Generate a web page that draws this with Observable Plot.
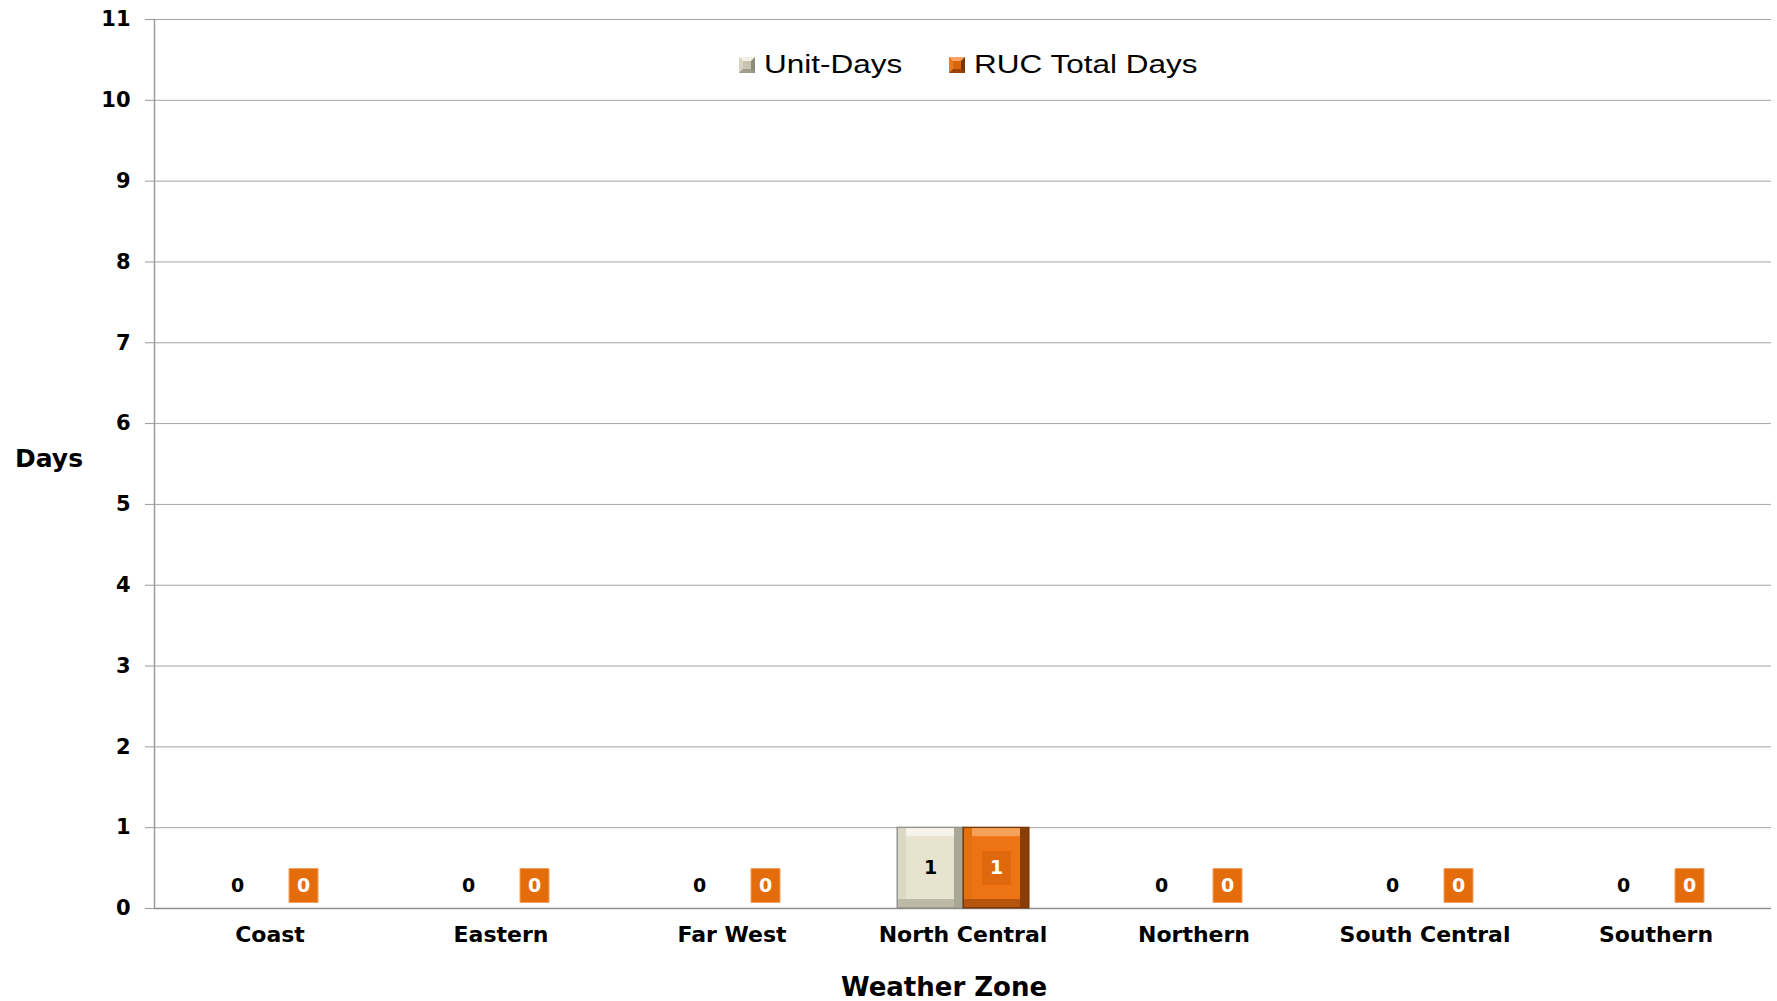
<!DOCTYPE html>
<html>
<head>
<meta charset="utf-8">
<script src="https://cdn.jsdelivr.net/npm/d3@7"></script>
<script src="https://cdn.jsdelivr.net/npm/@observablehq/plot@0.6"></script>
<style>
  html, body { margin: 0; padding: 0; background: #ffffff; }
  #wrap { position: relative; width: 1777px; height: 1001px; overflow: hidden; font-family: "DejaVu Sans", sans-serif; }
  #chart { position: absolute; left: 0; top: 0; }
  .txt { position: absolute; white-space: nowrap; color: #000; line-height: 1; }
  .leg { font-family: "Liberation Sans", Arial, sans-serif; font-size: 25px; transform: scaleX(1.26); transform-origin: left center; }
  .sw { position: absolute; width: 8px; height: 8px; border-style: solid; border-width: 4px; }
</style>
</head>
<body>
<div id="wrap">
  <div id="chart"></div>
  <div class="sw" style="left:739px; top:57px; background:#c9c5b2; border-color:#f3f1e7 #8c8a7a #9f9d8d #d6d3c2;"></div>
  <div class="txt leg" style="left:764px; top:52px;">Unit-Days</div>
  <div class="sw" style="left:949px; top:57px; background:#d9650c; border-color:#f7a163 #7a3506 #9a440a #e77a22;"></div>
  <div class="txt leg" style="left:974px; top:52px;">RUC Total Days</div>
  <div class="txt" style="left:15px; top:446px; font-size:25px; font-weight:bold;">Days</div>
  <div class="txt" style="left:944px; top:974px; font-size:26px; font-weight:bold; transform:translateX(-50%);">Weather Zone</div>
</div>
<script>
// ---- data ----
const zones = ["Coast", "Eastern", "Far West", "North Central", "Northern", "South Central", "Southern"];
const seriesNames = ["Unit-Days", "RUC Total Days"];
const unitDays = [0, 0, 0, 1, 0, 0, 0];
const rucDays  = [0, 0, 0, 1, 0, 0, 0];
const yTicks = [0, 1, 2, 3, 4, 5, 6, 7, 8, 9, 10, 11];

const rows = zones.flatMap((z, i) => [
  {zone: z, series: seriesNames[0], value: unitDays[i]},
  {zone: z, series: seriesNames[1], value: rucDays[i]}
]);

const palette = {
  "Unit-Days":      {right: "#a9a795", bottom: "#bcb9a7", left: "#dbd8c6", top: "#f6f4ea", face: "#e7e3cf", outline: "#8c8c8c"},
  "RUC Total Days": {right: "#8b3d06", bottom: "#b5540d", left: "#e4710f", top: "#f6a15a", face: "#ee7314", outline: "#6e3206"}
};

const B = 9; // bevel width
function bevelBars(s) {
  const c = palette[s];
  const base = {filter: d => d.series === s && d.value > 0, fx: "zone", x: "series", y: "value"};
  return [
    Plot.barY(rows, {...base, fill: c.right, stroke: c.outline, strokeWidth: 1}),
    Plot.barY(rows, {...base, fill: c.bottom, insetRight: B, insetTop: 1, insetLeft: 1, insetBottom: 1}),
    Plot.barY(rows, {...base, fill: c.left, insetRight: B, insetBottom: B, insetTop: 1, insetLeft: 1}),
    Plot.barY(rows, {...base, fill: c.top, insetRight: B, insetBottom: B, insetLeft: B, insetTop: 1}),
    Plot.barY(rows, {...base, fill: c.face, inset: B})
  ];
}

const labelBox = {draw(ctx) { ctx.rect(-14.5, -17, 29, 34); }};

const isUnit = d => d.series === seriesNames[0];
const isRuc = d => d.series === seriesNames[1];

const chart = Plot.plot({
  width: 1777,
  height: 1001,
  marginLeft: 154,
  marginRight: 6,
  marginTop: 19,
  marginBottom: 93,
  style: {fontFamily: "DejaVu Sans, sans-serif", background: "#ffffff", color: "#000"},
  fx: {domain: zones, padding: 0, label: null},
  x: {domain: seriesNames, paddingInner: 0, paddingOuter: 0.75, axis: null},
  y: {domain: [0, 11], label: null},
  marks: [
    Plot.gridY({ticks: yTicks, stroke: "#a3a3a3", strokeOpacity: 1, strokeWidth: 1}),
    Plot.ruleY([0], {stroke: "#8f8f8f", strokeWidth: 1.5}),
    Plot.frame({anchor: "left", facetAnchor: "left", stroke: "#9a9a9a", strokeWidth: 1.5}),
    Plot.axisY({ticks: yTicks, tickSize: 9, tickPadding: 15, fontSize: 21, fontWeight: "bold", stroke: "#9a9a9a", fill: "#000", label: null, tickFormat: d => String(d)}),
    Plot.axisFx({anchor: "bottom", tickSize: 0, tickPadding: 18, fontSize: 22, fontWeight: "bold", fill: "#000", label: null}),
    ...bevelBars(seriesNames[0]),
    ...bevelBars(seriesNames[1]),
    // orange label boxes
    Plot.dot(rows, {filter: d => isRuc(d) && d.value === 0, fx: "zone", x: "series", y: "value", dy: -23, symbol: labelBox, fill: "#e46c0a", stroke: "#f0a060", strokeWidth: 1, r: 5}),
    Plot.dot(rows, {filter: d => isRuc(d) && d.value > 0, fx: "zone", x: "series", y: d => d.value / 2, symbol: labelBox, fill: "#e0680c", r: 5}),
    // value labels
    Plot.text(rows, {filter: d => isUnit(d) && d.value === 0, fx: "zone", x: "series", y: "value", dy: -23, text: d => String(d.value), fontSize: 19, fontWeight: "bold", fill: "#000"}),
    Plot.text(rows, {filter: d => isUnit(d) && d.value > 0, fx: "zone", x: "series", y: d => d.value / 2, text: d => String(d.value), fontSize: 19, fontWeight: "bold", fill: "#000"}),
    Plot.text(rows, {filter: d => isRuc(d) && d.value === 0, fx: "zone", x: "series", y: "value", dy: -23, text: d => String(d.value), fontSize: 19, fontWeight: "bold", fill: "#ffffff"}),
    Plot.text(rows, {filter: d => isRuc(d) && d.value > 0, fx: "zone", x: "series", y: d => d.value / 2, text: d => String(d.value), fontSize: 19, fontWeight: "bold", fill: "#ffffff"})
  ]
});
document.getElementById("chart").appendChild(chart);
</script>
</body>
</html>
